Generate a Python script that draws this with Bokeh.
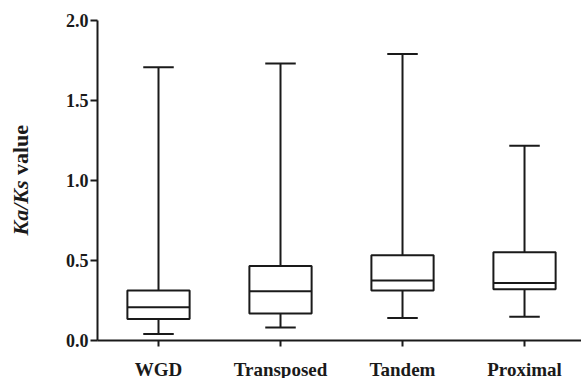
import math
from bokeh.plotting import figure
from bokeh.layouts import row, column
from bokeh.models import FixedTicker, PrintfTickFormatter, Range1d
from bokeh.core.properties import value
from bokeh.embed import file_html
from bokeh.resources import INLINE

categories = ["WGD", "Transposed", "Tandem", "Proximal"]
mins = [0.04, 0.081, 0.14, 0.148]
q1 = [0.135, 0.169, 0.312, 0.32]
medians = [0.208, 0.308, 0.375, 0.36]
q3 = [0.312, 0.465, 0.533, 0.552]
maxs = [1.708, 1.731, 1.79, 1.217]
y_ticks = [0.0, 0.5, 1.0, 1.5, 2.0]

BOX_W = 0.51
CAP_W = 0.25
INK = "#1a1a1a"
FONT = "Liberation Serif"

xs = list(range(len(categories)))

x_range = Range1d(-0.5, 3.467)
y_range = Range1d(0, 2.0)


def bare(fig):
    fig.outline_line_color = None
    fig.background_fill_color = "white"
    fig.border_fill_color = "white"
    fig.xgrid.grid_line_color = None
    fig.ygrid.grid_line_color = None
    return fig


# ---- main plot ----
p = bare(figure(width=541, height=356, output_backend="svg", toolbar_location=None,
                x_range=x_range, y_range=y_range,
                min_border_left=57, min_border_right=0, min_border_top=20, min_border_bottom=16))

# whiskers
p.segment(x0=xs, y0=q3, x1=xs, y1=maxs, line_color=INK, line_width=2)
p.segment(x0=xs, y0=q1, x1=xs, y1=mins, line_color=INK, line_width=2)
# caps
p.segment(x0=[x - CAP_W / 2 for x in xs], y0=maxs, x1=[x + CAP_W / 2 for x in xs], y1=maxs,
          line_color=INK, line_width=2)
p.segment(x0=[x - CAP_W / 2 for x in xs], y0=mins, x1=[x + CAP_W / 2 for x in xs], y1=mins,
          line_color=INK, line_width=2)
# boxes
p.vbar(x=xs, top=q3, bottom=q1, width=BOX_W, fill_color="white", line_color=INK, line_width=2)
# medians
p.segment(x0=[x - BOX_W / 2 for x in xs], y0=medians, x1=[x + BOX_W / 2 for x in xs], y1=medians,
          line_color=INK, line_width=2)

for ax in (p.xaxis[0], p.yaxis[0]):
    ax.axis_line_width = 2
    ax.axis_line_color = INK
    ax.major_tick_line_width = 2
    ax.major_tick_line_color = INK
    ax.minor_tick_line_color = None
    ax.major_tick_in = 0
    ax.major_label_text_font = FONT
    ax.major_label_text_font_style = "bold"
    ax.major_label_text_color = INK

p.xaxis.ticker = FixedTicker(ticks=xs)
p.xaxis.major_label_text_font_size = "0px"
p.xaxis.major_label_text_color = None
p.xaxis.major_label_standoff = 0
p.xaxis.major_tick_out = 6

p.yaxis.ticker = FixedTicker(ticks=y_ticks)
p.yaxis.formatter = PrintfTickFormatter(format="%.1f")
p.yaxis.major_label_text_font_size = "18px"
p.yaxis.major_tick_out = 7
p.yaxis.major_label_standoff = 2

# ---- category labels strip (shares the x scale) ----
bf = bare(figure(width=541, height=22, output_backend="svg", toolbar_location=None,
                 x_range=x_range, y_range=Range1d(22, 0),
                 x_axis_location=None, y_axis_location=None,
                 min_border_left=57, min_border_right=0, min_border_top=0, min_border_bottom=0))
bf.text(x=xs, y=[12.9] * len(xs), text=categories, text_align="center",
        text_baseline="middle", text_font=value(FONT), text_font_style=value("bold"),
        text_font_size=value("19px"), text_color=INK)

# ---- y-axis title strip (shares the y scale) ----
lf = bare(figure(width=40, height=378, output_backend="svg", toolbar_location=None,
                 x_range=Range1d(0, 40), y_range=y_range,
                 x_axis_location=None, y_axis_location=None,
                 min_border_left=0, min_border_right=0, min_border_top=20, min_border_bottom=38))
lf.text(x=[20], y=[1.0], text=["Ka/Ks"], angle=math.pi / 2, text_align="right",
        text_baseline="middle", text_font=value(FONT), text_font_style=value("bold italic"),
        text_font_size=value("22px"), text_color=INK)
lf.text(x=[20], y=[1.0], text=["\u00a0value"], angle=math.pi / 2, text_align="left",
        text_baseline="middle", text_font=value(FONT), text_font_style=value("bold"),
        text_font_size=value("22px"), text_color=INK)

layout = row(lf, column(p, bf, spacing=0), spacing=0)

open("out.html", "w").write(file_html(layout, INLINE))
